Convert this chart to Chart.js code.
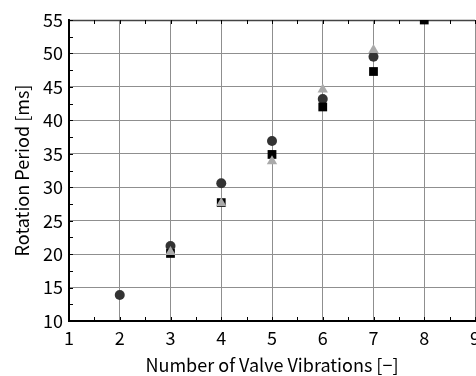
<!DOCTYPE html>
<html>
<head>
<meta charset="utf-8">
<script src="https://cdn.jsdelivr.net/npm/chart.js@4/dist/chart.umd.min.js"></script>
<style>
  html, body { margin: 0; padding: 0; background: #fff; overflow: hidden; }
  #wrap { position: relative; width: 476px; height: 376px; }
</style>
</head>
<body>
<div id="wrap"><canvas id="myChart" width="476" height="376"></canvas></div>
<script>
// number of valve vibrations
const vibrations = [2, 3, 4, 5, 6, 7, 8];
// rotation period [ms] per series (null = no point)
const periodCircle = [13.9, 21.2, 30.6, 36.9, 43.2, 49.5, null];
const periodSquare = [null, 20.1, 27.7, 34.9, 42.0, 47.3, 55.0];
const periodTriangle = [null, 20.3, 27.6, 33.9, 44.6, 50.5, null];

const xTicks = [1, 2, 3, 4, 5, 6, 7, 8, 9];
const yTicks = [10, 15, 20, 25, 30, 35, 40, 45, 50, 55];

function toPoints(values) {
    return vibrations
        .map((x, i) => ({ x: x, y: values[i] }))
        .filter(p => p.y !== null);
}

const FONT = "'Noto Sans CJK JP', 'Noto Sans', sans-serif";

// top border and inward ticks
const frame = {
    id: 'frame',
    beforeDatasetsDraw(chart) {
        const { ctx, chartArea } = chart;
        const xs = chart.scales.x, ys = chart.scales.y;
        ctx.save();
        ctx.strokeStyle = '#444';
        ctx.lineWidth = 1.5;
        ctx.beginPath();
        ctx.moveTo(chartArea.left, chartArea.top + 0.5);
        ctx.lineTo(chartArea.right, chartArea.top + 0.5);
        ctx.stroke();

        ctx.strokeStyle = '#000';
        ctx.lineWidth = 1;
        ctx.beginPath();
        for (let v = xTicks[0]; v <= xTicks[xTicks.length - 1]; v += 0.5) {
            const px = Math.round(xs.getPixelForValue(v)) + 0.5;
            ctx.moveTo(px, chartArea.bottom);
            ctx.lineTo(px, chartArea.bottom - 4);
            ctx.moveTo(px, chartArea.top);
            ctx.lineTo(px, chartArea.top + 4);
        }
        for (let v = yTicks[0]; v <= yTicks[yTicks.length - 1]; v += 2.5) {
            const py = Math.round(ys.getPixelForValue(v)) + 0.5;
            ctx.moveTo(chartArea.left, py);
            ctx.lineTo(chartArea.left + 4, py);
        }
        ctx.stroke();
        ctx.restore();
    }
};

new Chart(document.getElementById('myChart'), {
    type: 'scatter',
    data: {
        // first dataset is drawn on top
        datasets: [
            {
                label: 'triangle',
                data: toPoints(periodTriangle),
                pointStyle: 'triangle',
                pointRadius: 6,
                backgroundColor: '#aaaaaa',
                borderColor: '#aaaaaa',
                borderWidth: 0,
                clip: 0
            },
            {
                label: 'square',
                data: toPoints(periodSquare),
                pointStyle: 'rect',
                pointRadius: 6.2,
                backgroundColor: '#000000',
                borderColor: '#000000',
                borderWidth: 0,
                clip: 0
            },
            {
                label: 'circle',
                data: toPoints(periodCircle),
                pointStyle: 'circle',
                pointRadius: 5,
                backgroundColor: '#333333',
                borderColor: '#333333',
                borderWidth: 0,
                clip: 0
            }
        ]
    },
    options: {
        responsive: false,
        animation: false,
        layout: { autoPadding: false, padding: { top: 20, right: 1, bottom: 0, left: 0 } },
        plugins: {
            legend: { display: false },
            tooltip: { enabled: false }
        },
        scales: {
            x: {
                type: 'linear',
                min: 1,
                max: 9,
                afterBuildTicks: (scale) => { scale.ticks = xTicks.map(v => ({ value: v })); },
                afterFit: (scale) => {
                    scale.height = 55;
                    scale.paddingLeft = 0;
                    scale.paddingRight = 0;
                },
                ticks: {
                    color: '#000',
                    padding: 6,
                    maxRotation: 0,
                    font: { family: FONT, size: 18 }
                },
                grid: { color: '#8f8f8f', lineWidth: 1, drawTicks: false },
                border: { color: '#000', width: 2 },
                title: {
                    display: true,
                    text: 'Number of Valve Vibrations [−]',
                    color: '#000',
                    padding: 0,
                    font: { family: FONT, size: 18 }
                }
            },
            y: {
                type: 'linear',
                min: 10,
                max: 55,
                afterBuildTicks: (scale) => { scale.ticks = yTicks.map(v => ({ value: v })); },
                afterFit: (scale) => {
                    scale.width = 69;
                    scale.paddingTop = 0;
                    scale.paddingBottom = 0;
                },
                ticks: {
                    color: '#000',
                    padding: 6,
                    font: { family: FONT, size: 18 }
                },
                grid: { color: '#8f8f8f', lineWidth: 1, drawTicks: false },
                border: { color: '#000', width: 2 },
                title: {
                    display: true,
                    text: 'Rotation Period [ms]',
                    color: '#000',
                    padding: { top: 11, bottom: 0 },
                    font: { family: FONT, size: 18 }
                }
            }
        }
    },
    plugins: [frame]
});
</script>
</body>
</html>
